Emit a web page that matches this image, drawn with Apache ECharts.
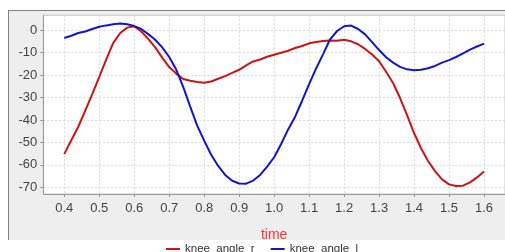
<!DOCTYPE html>
<html><head><meta charset="utf-8">
<script src="https://cdn.jsdelivr.net/npm/echarts@6/dist/echarts.min.js"></script>
<style>html,body{margin:0;padding:0;background:#fff}#c{width:505px;height:252px}</style>
</head><body><div id="c"></div>
<script>
const time = [0.40,0.42,0.44,0.46,0.48,0.50,0.52,0.54,0.56,0.58,0.60,0.62,0.64,0.66,0.68,0.70,0.72,0.74,0.76,0.78,0.80,0.82,0.84,0.86,0.88,0.90,0.92,0.94,0.96,0.98,1.00,1.02,1.04,1.06,1.08,1.10,1.12,1.14,1.16,1.18,1.20,1.22,1.24,1.26,1.28,1.30,1.32,1.34,1.36,1.38,1.40,1.42,1.44,1.46,1.48,1.50,1.52,1.54,1.56,1.58,1.60];
const kneeAngleR = [-55.2,-49,-43,-35.8,-28.5,-20.8,-13,-5.6,-1.2,1.2,1.8,-0.5,-3.8,-7.6,-12.2,-16.4,-19.3,-21.7,-22.5,-23,-23.4,-22.8,-21.6,-20.4,-19,-17.6,-15.6,-13.9,-13,-11.8,-10.9,-10,-9.1,-7.9,-7.0,-5.8,-5.2,-4.8,-4.5,-4.6,-4.2,-4.9,-6.2,-8.3,-10.8,-13.8,-18.5,-23.5,-30.2,-37.8,-45.8,-52.6,-58.3,-62.8,-66.5,-68.7,-69.4,-69.3,-67.8,-65.6,-63];
const kneeAngleL = [-3.4,-2.4,-1.2,-0.5,0.6,1.6,2.2,2.7,3.0,2.7,1.9,0.6,-1.7,-4.2,-7.6,-11.9,-17.5,-25.2,-34,-42.5,-49.2,-55.5,-60.5,-64.5,-67.1,-68.3,-68.4,-67,-64.5,-60.8,-56.6,-50.7,-44.2,-38.5,-31.4,-24,-17,-10.6,-4,-0.3,1.8,2.1,0.6,-1.8,-5.3,-8.8,-12,-14.4,-16.3,-17.4,-17.8,-17.6,-16.9,-15.9,-14.4,-13.3,-11.9,-10.3,-8.6,-7.2,-5.9];
const xTicks = [0.4,0.5,0.6,0.7,0.8,0.9,1.0,1.1,1.2,1.3,1.4,1.5,1.6];
const yTicks = [-70,-60,-50,-40,-30,-20,-10,0];

const chart = echarts.init(document.getElementById('c'), null, {renderer:'canvas'});
const gridLine = {show:true, lineStyle:{color:'#d8d8d8', type:[2,2], width:1}};
chart.setOption({
  animation:false,
  backgroundColor:'#fff',
  graphic:[
    {type:'rect', z:-10, silent:true, shape:{x:8, y:10, width:520, height:230}, style:{fill:'#eeeeee'}},
    {type:'line', z:-9, silent:true, shape:{x1:8.5, y1:10, x2:8.5, y2:240}, style:{stroke:'#808080', lineWidth:1}},
    {type:'line', z:-9, silent:true, shape:{x1:8, y1:10.5, x2:530, y2:10.5}, style:{stroke:'#808080', lineWidth:1}}
  ],
  grid:{left:43.3, top:15.3, bottom:58, right:-15, show:true, backgroundColor:'#fff', borderColor:'#c8c8c8', borderWidth:1},
  legend:{left:166, top:243, padding:0, icon:'rect', itemWidth:14, itemHeight:2, itemGap:16, textStyle:{fontFamily:'Liberation Sans, Arial', fontSize:11.5, color:'#333'},
    data:['knee_angle_r','knee_angle_l']},
  xAxis:{type:'value', min:0.34, max:1.66,
    name:'time', nameLocation:'middle', nameGap:34, nameTextStyle:{color:'#ff3030', fontFamily:'Liberation Sans, Arial', fontSize:14},
    axisLine:{show:true, onZero:false, lineStyle:{color:'#999'}},
    axisTick:{show:true, length:3, customValues:xTicks, lineStyle:{color:'#999'}},
    axisLabel:{customValues:xTicks, margin:8, color:'#444', fontFamily:'Liberation Sans, Arial', fontSize:13, formatter:v=>v.toFixed(1)},
    splitLine:gridLine},
  yAxis:{type:'value', min:-73, max:6.7,
    axisLine:{show:true, lineStyle:{color:'#999'}},
    axisTick:{show:true, length:3, customValues:yTicks, lineStyle:{color:'#999'}},
    axisLabel:{customValues:yTicks, margin:6, color:'#444', fontFamily:'Liberation Sans, Arial', fontSize:13},
    splitLine:gridLine},
  series:[
    {name:'knee_angle_r', type:'line', symbol:'none', data:time.map((t,i)=>[t,kneeAngleR[i]]), lineStyle:{color:'#cc1414', width:2}, itemStyle:{color:'#cc1414'}},
    {name:'knee_angle_l', type:'line', symbol:'none', data:time.map((t,i)=>[t,kneeAngleL[i]]), lineStyle:{color:'#1414cc', width:2}, itemStyle:{color:'#1414cc'}}
  ]
});
</script></body></html>
